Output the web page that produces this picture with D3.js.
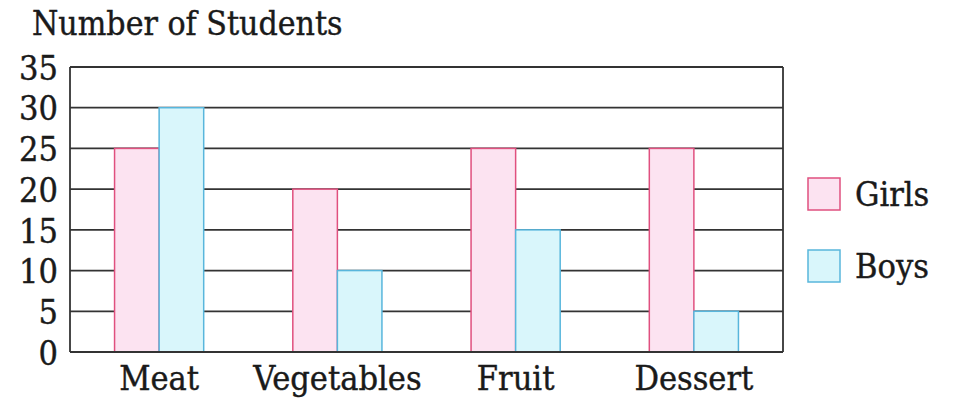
<!DOCTYPE html>
<html>
<head>
<meta charset="utf-8">
<script src="https://cdn.jsdelivr.net/npm/d3@7"></script>
<style>
    body { margin: 0; background: #fff; }
</style>
</head>
<body>
<div id="chart"></div>
<script>
// chart data
const categories = ["Meat", "Vegetables", "Fruit", "Dessert"];
const seriesNames = ["Girls", "Boys"];
const girls = [25, 20, 25, 25];
const boys = [30, 10, 15, 5];
const yTicks = [0, 5, 10, 15, 20, 25, 30, 35];

const width = 958, height = 403;
const margin = {top: 67, right: 175, bottom: 51, left: 70};
const innerW = width - margin.left - margin.right;
const innerH = height - margin.top - margin.bottom;
const fontFamily = '"DejaVu Serif Condensed", "Liberation Serif", serif';
const fontSize = 34;

const colors = {
    Girls: {fill: '#fce3f1', stroke: '#e0507f'},
    Boys: {fill: '#d9f6fb', stroke: '#58b6dc'}
};

// helper for the heavy book-style text
function styleText(sel, size) {
    sel.style('font-size', size + 'px')
        .style('font-family', fontFamily)
        .attr('fill', '#1a1a1a')
        .attr('stroke', '#1a1a1a')
        .attr('stroke-width', 0.4);
}

const svg = d3.select('#chart').append('svg')
    .attr('width', width)
    .attr('height', height);

const chart = svg.append('g')
    .attr('transform', `translate(${margin.left},${margin.top})`);

const x = d3.scaleBand()
    .domain(categories)
    .range([0, innerW])
    .paddingInner(0.5)
    .paddingOuter(0.25);

const xInner = d3.scaleBand()
    .domain(seriesNames)
    .range([0, x.bandwidth()]);

const y = d3.scaleLinear()
    .domain([0, 35])
    .range([innerH, 0]);

// gridlines
chart.append('g')
    .selectAll('line')
    .data(yTicks)
    .enter().append('line')
    .attr('x1', 0)
    .attr('x2', innerW)
    .attr('y1', d => y(d))
    .attr('y2', d => y(d))
    .attr('stroke', '#333')
    .attr('stroke-width', 1.8);

// frame sides
chart.append('line')
    .attr('x1', 0).attr('x2', 0)
    .attr('y1', 0).attr('y2', innerH)
    .attr('stroke', '#333').attr('stroke-width', 1.8);
chart.append('line')
    .attr('x1', innerW).attr('x2', innerW)
    .attr('y1', 0).attr('y2', innerH)
    .attr('stroke', '#333').attr('stroke-width', 1.8);

// bars
const rows = categories.map((c, i) => ({cat: c, Girls: girls[i], Boys: boys[i]}));

seriesNames.forEach(function(s) {
    chart.selectAll('.bar-' + s)
        .data(rows)
        .enter().append('rect')
        .attr('class', 'bar bar-' + s)
        .attr('x', d => x(d.cat) + xInner(s))
        .attr('y', d => y(d[s]))
        .attr('width', xInner.bandwidth())
        .attr('height', d => innerH - y(d[s]))
        .attr('fill', colors[s].fill)
        .attr('stroke', colors[s].stroke)
        .attr('stroke-width', 1.5);
});

// baseline over bars
chart.append('line')
    .attr('x1', 0).attr('x2', innerW)
    .attr('y1', innerH).attr('y2', innerH)
    .attr('stroke', '#333').attr('stroke-width', 1.8);

// y axis labels
const yAxis = d3.axisLeft(y)
    .tickValues(yTicks)
    .tickSize(0)
    .tickPadding(12);
const yAxisG = chart.append('g').call(yAxis);
yAxisG.select('.domain').remove();
yAxisG.selectAll('text')
    .call(styleText, fontSize)
    .attr('dy', '0.36em');

// x axis labels
const xAxis = d3.axisBottom(x)
    .tickSize(0)
    .tickPadding(14);
const xAxisG = chart.append('g')
    .attr('transform', `translate(0,${innerH})`)
    .call(xAxis);
xAxisG.select('.domain').remove();
xAxisG.selectAll('text')
    .call(styleText, fontSize)
    .attr('dy', '0.71em');

// title
svg.append('text')
    .attr('x', 32)
    .attr('y', 35)
    .call(styleText, 33.5)
    .text('Number of Students');

// legend
const legend = svg.selectAll('.legend')
    .data(seriesNames)
    .enter().append('g')
    .attr('class', 'legend')
    .attr('transform', (d, i) => `translate(808,${178 + i * 72})`);

legend.append('rect')
    .attr('width', 32)
    .attr('height', 32)
    .attr('fill', d => colors[d].fill)
    .attr('stroke', d => colors[d].stroke)
    .attr('stroke-width', 1.5);

legend.append('text')
    .attr('x', 47)
    .attr('y', 16)
    .attr('dy', '0.36em')
    .call(styleText, fontSize)
    .text(d => d);
</script>
</body>
</html>
